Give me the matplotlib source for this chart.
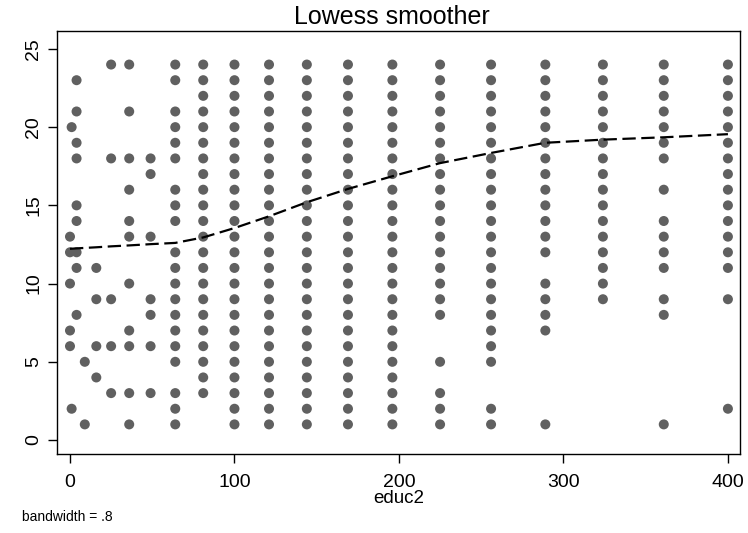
#!/usr/bin/env python3
"""Scatter of y against educ2 with a lowess smoother (Stata-style look)."""
import matplotlib
matplotlib.use("Agg")
import matplotlib.pyplot as plt

plt.rcParams["font.family"] = ["Liberation Sans", "DejaVu Sans"]

y_0 = [13, 12, 10, 7, 6]
y_1 = [20, 2]
y_4 = [23, 21, 19, 18, 15, 14, 12, 11, 8]
y_9 = [5, 1]
y_16 = [11, 9, 6, 4]
y_25 = [24, 18, 9, 6, 3]
y_36 = [24, 21, 18, 16, 14, 13, 10, 7, 6, 3, 1]
y_49 = [18, 17, 13, 9, 8, 6, 3]
y_64 = [24, 23, 21, 20, 19, 18, 16, 15, 14, 12, 11, 10, 9, 8, 7, 6, 5, 3, 2, 1]
y_81 = [24, 23, 22, 21, 20, 19, 18, 17, 16, 15, 14, 13, 12, 11, 10, 9, 8, 7, 6, 5, 4, 3]
y_100 = [24, 23, 22, 21, 20, 19, 18, 17, 16, 15, 14, 13, 12, 11, 10, 9, 8, 7, 6, 5, 4, 3, 2, 1]
y_121 = [24, 23, 22, 21, 20, 19, 18, 17, 16, 15, 14, 13, 12, 11, 10, 9, 8, 7, 6, 5, 4, 3, 2, 1]
y_144 = [24, 23, 22, 21, 20, 19, 18, 17, 16, 15, 14, 13, 12, 11, 10, 9, 8, 7, 6, 5, 4, 3, 2, 1]
y_169 = [24, 23, 22, 21, 20, 19, 18, 17, 16, 15, 14, 13, 12, 11, 10, 9, 8, 7, 6, 5, 4, 3, 2, 1]
y_196 = [24, 23, 22, 21, 20, 19, 18, 17, 16, 15, 14, 13, 12, 11, 10, 9, 8, 7, 6, 5, 4, 3, 2, 1]
y_225 = [24, 23, 22, 21, 20, 19, 18, 17, 16, 15, 14, 13, 12, 11, 10, 9, 8, 5, 3, 2, 1]
y_256 = [24, 23, 22, 21, 20, 19, 18, 17, 16, 15, 14, 13, 12, 11, 10, 9, 8, 7, 6, 5, 2, 1]
y_289 = [24, 23, 22, 21, 20, 19, 18, 17, 16, 15, 14, 13, 12, 10, 9, 8, 7, 1]
y_324 = [24, 23, 22, 21, 20, 19, 18, 17, 16, 15, 14, 13, 12, 11, 10, 9]
y_361 = [24, 23, 22, 21, 20, 19, 18, 16, 14, 13, 12, 11, 9, 8, 1]
y_400 = [24, 23, 22, 21, 20, 19, 18, 17, 16, 15, 14, 13, 12, 11, 9, 2]

educ2_levels = [0, 1, 4, 9, 16, 25, 36, 49, 64, 81, 100, 121, 144, 169,
                196, 225, 256, 289, 324, 361, 400]
y_by_level = [y_0, y_1, y_4, y_9, y_16, y_25, y_36, y_49, y_64, y_81, y_100,
              y_121, y_144, y_169, y_196, y_225, y_256, y_289, y_324, y_361, y_400]

# lowess fit (bandwidth .8)
lowess_y = [12.22, 12.23, 12.25, 12.28, 12.32, 12.38, 12.44, 12.52, 12.6, 12.95,
            13.55, 14.3, 15.2, 16.05, 16.86, 17.7, 18.35, 19.0, 19.2, 19.35, 19.55]

xs, ys = [], []
for lvl, vals in zip(educ2_levels, y_by_level):
    xs += [lvl] * len(vals)
    ys += vals

fig = plt.figure(figsize=(7.48, 5.33), dpi=100)
ax = fig.add_axes([0.0762, 0.148, 0.913, 0.794])

ax.scatter(xs, ys, s=52, color="#606060", edgecolors="none", zorder=2)
ax.plot(educ2_levels, lowess_y, color="black", linewidth=1.6,
        dashes=(6, 2.5), zorder=3)

ax.set_xlim(-7.9, 407.3)
ax.set_ylim(-0.9, 26.15)
ax.set_xticks([0, 100, 200, 300, 400])
ax.set_yticks([0, 5, 10, 15, 20, 25])
ax.tick_params(direction="out", length=6.5, width=1, labelsize=14, colors="black")
ax.tick_params(axis="x", pad=8)
ax.tick_params(axis="y", pad=4)
for lab in ax.get_yticklabels():
    lab.set_rotation(90)
    lab.set_va("center")
for sp in ax.spines.values():
    sp.set_linewidth(1.0)

ax.set_title("Lowess smoother", fontsize=18, x=0.4905, pad=5)
ax.set_xlabel("educ2", fontsize=13.5, labelpad=-1)
fig.text(0.029, 0.022, "bandwidth = .8", fontsize=10)

fig.savefig("out.png", dpi=100)
